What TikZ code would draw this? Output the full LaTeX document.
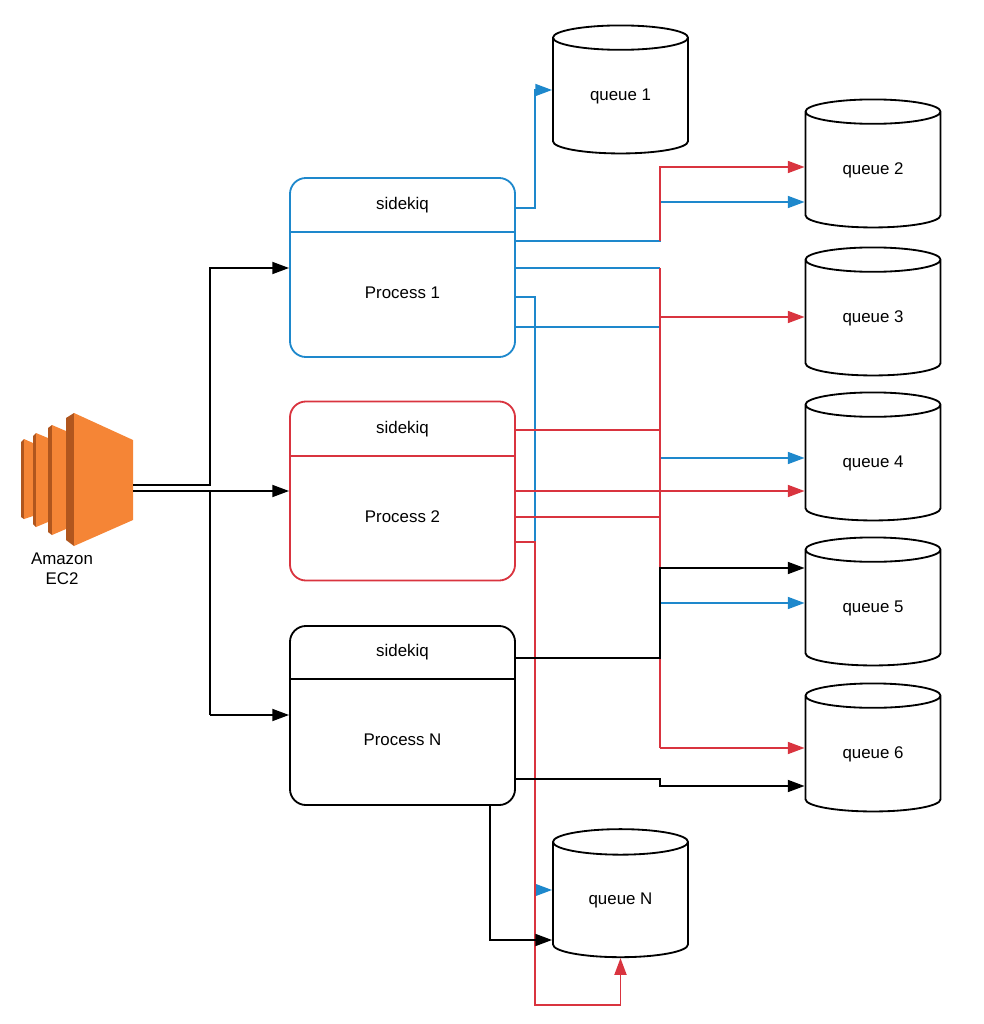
\documentclass[tikz,border=0pt]{standalone}
\usepackage{fontspec}
\setmainfont{Liberation Sans}
\usetikzlibrary{arrows.meta, shapes.geometric}
\definecolor{ecorange}{HTML}{F58536}
\definecolor{ecdark}{HTML}{B0561E}
\definecolor{blueln}{HTML}{1E88CC}
\definecolor{redln}{HTML}{D9343F}

\begin{document}
\begin{tikzpicture}[x=0.025cm, y=-0.025cm, >={Triangle[length=0.42cm, width=0.3cm]},
                line width=1.3pt, line join=miter,
                queue/.style={cylinder, shape border rotate=90, draw=black, aspect=0.4,
                    minimum width=3.375cm, minimum height=3.2cm, font=\large, inner sep=0pt},
                proc/.style={draw, rounded corners=0.4cm, minimum width=5.625cm,
                    minimum height=4.475cm},
                bl/.style={draw=blueln},
                rd/.style={draw=redln},
                bk/.style={draw=black}]

            \useasboundingbox (0,0) rectangle (984,1024);

            % EC2 icon
            \fill[ecdark] (21,442) -- (24,439) -- (24,519) -- (21,517) -- cycle;
            \fill[ecorange] (24,439) -- (33,443) -- (33,516) -- (24,519) -- cycle;
            \fill[ecdark] (33,436) -- (36,433) -- (36,527) -- (33,524) -- cycle;
            \fill[ecorange] (36,433) -- (48,438) -- (48,522) -- (36,527) -- cycle;
            \fill[ecdark] (48,428) -- (52,425) -- (52,535) -- (48,532) -- cycle;
            \fill[ecorange] (52,425) -- (66,431) -- (66,529) -- (52,535) -- cycle;
            \fill[ecdark] (66,418) -- (74,413) -- (74,546) -- (66,540) -- cycle;
            \fill[ecorange] (74,413) -- (133,440) -- (133,520) -- (74,546) -- cycle;
            \node[font=\large, align=center] (ec2label) at (62,569) {Amazon\\EC2};

            % processes
            \node[proc, draw=blueln] (p1) at (402.5,267.5) {};
            \node[proc, draw=redln] (p2) at (402.5,491) {};
            \node[proc, draw=black] (pn) at (402.5,715.5) {};
            \draw[bl] (290,232) -- (515,232);
            \draw[rd] (290,456) -- (515,456);
            \draw[bk] (290,679) -- (515,679);
            \node[font=\large] (s1) at (402.5,205) {sidekiq};
            \node[font=\large] (t1) at (402.5,293) {Process 1};
            \node[font=\large] (s2) at (402.5,429) {sidekiq};
            \node[font=\large] (t2) at (402.5,517) {Process 2};
            \node[font=\large] (sn) at (402.5,652) {sidekiq};
            \node[font=\large] (tn) at (402.5,740) {Process N};

            % queues
            \node[queue] (q1) at (620.5,96) {queue 1};
            \node[queue] (q2) at (873,170) {queue 2};
            \node[queue] (q3) at (873,318) {queue 3};
            \node[queue] (q4) at (873,463) {queue 4};
            \node[queue] (q5) at (873,608) {queue 5};
            \node[queue] (q6) at (873,754) {queue 6};
            \node[queue] (qn) at (620.5,900) {queue N};

            % ec2 to processes
            \draw[->] (133,485) -- (210,485) -- (210,268) -- (p1.west |- 0,268);
            \draw[->] (133,491) -- (p2.west |- 0,491);
            \draw (210,491) -- (210,715);
            \draw[->] (210,715) -- (pn.west |- 0,715);

            % process 1
            \draw[bl, ->] (515,208) -- (535,208) -- (535,90) -- (q1.west |- 0,90);
            \draw[bl, ->] (515,241) -- (660,241) -- (660,202) -- (q2.west |- 0,202);
            \draw[bl] (515,268) -- (660,268);
            \draw[bl] (515,327) -- (660,327);
            \draw[bl, ->] (515,297) -- (535,297) -- (535,890) -- (qn.west |- 0,890);
            \draw[bl, ->] (660,458) -- (q4.west |- 0,458);
            \draw[bl, ->] (660,603) -- (q5.west |- 0,603);

            % process 2
            \draw[rd, ->] (660,241) -- (660,167) -- (q2.west |- 0,167);
            \draw[rd] (660,268) -- (660,748);
            \draw[rd, ->] (660,317) -- (q3.west |- 0,317);
            \draw[rd, ->] (660,748) -- (q6.west |- 0,748);
            \draw[rd] (515,430) -- (660,430);
            \draw[rd, ->] (515,491) -- (q4.west |- 0,491);
            \draw[rd] (515,517) -- (660,517);
            \draw[rd, ->] (515,542) -- (535,542) -- (535,1005) -| (qn.south);

            % process N
            \draw[->] (515,658) -- (660,658) -- (660,568) -- (q5.west |- 0,568);
            \draw[->] (515,779) -- (660,779) -- (660,786) -- (q6.west |- 0,786);
            \draw[->] (490,805) -- (490,940) -- (qn.west |- 0,940);
        \end{tikzpicture}
\end{document}
